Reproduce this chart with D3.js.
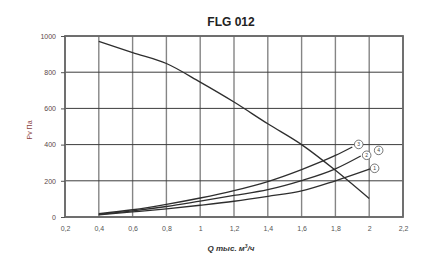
<!DOCTYPE html>
<html>
<head>
<meta charset="utf-8">
<script src="https://cdn.jsdelivr.net/npm/d3@7"></script>
<style>
  body { margin: 0; background: #fff; }
  text { font-family: "Liberation Sans", Arial, sans-serif; }
</style>
</head>
<body>
<div id="chart"></div>
<script>
// data
const xTicks = [0.2, 0.4, 0.6, 0.8, 1.0, 1.2, 1.4, 1.6, 1.8, 2.0, 2.2];
const yTicks = [0, 200, 400, 600, 800, 1000];

// fan curve (pressure falls with flow)
const fanQ = [0.4, 0.6, 0.8, 1.0, 1.2, 1.4, 1.6, 1.8, 2.0];
const fanP = [970, 908, 848, 745, 635, 515, 400, 258, 102];

// system curves
const sysQ3 = [0.4, 0.6, 0.8, 1.0, 1.2, 1.4, 1.6, 1.8, 1.9];
const sysP3 = [18, 40, 70, 105, 146, 196, 262, 340, 387];
const sysQ2 = [0.4, 0.6, 0.8, 1.0, 1.2, 1.4, 1.6, 1.8, 1.95];
const sysP2 = [15, 34, 58, 88, 119, 151, 201, 266, 337];
const sysQ1 = [0.4, 0.6, 0.8, 1.0, 1.2, 1.4, 1.6, 1.8, 2.01];
const sysP1 = [12, 28, 45, 65, 87, 114, 144, 200, 267];

// circled curve numbers
const markNames = ["3", "2", "4", "1"];
const markQ = [1.938, 1.985, 2.056, 2.032];
const markP = [401, 341, 368, 269];

const W = 427, H = 263;
const margin = {top: 36, right: 24, bottom: 46, left: 65};
const width = W - margin.left - margin.right,
    height = H - margin.top - margin.bottom;

const svg = d3.select("#chart")
    .append("svg")
    .attr("width", W)
    .attr("height", H);

const g = svg.append("g")
    .attr("transform", `translate(${margin.left},${margin.top})`);

const x = d3.scaleLinear().domain([0.2, 2.2]).range([0, width]);
const y = d3.scaleLinear().domain([0, 1000]).range([height, 0]);

// vertical grid
g.append("g")
    .selectAll("line")
    .data(xTicks)
    .enter()
    .append("line")
    .attr("x1", d => x(d)).attr("x2", d => x(d))
    .attr("y1", 0).attr("y2", height)
    .attr("stroke", "#858585")
    .attr("stroke-width", 1.4);

// horizontal grid
g.append("g")
    .selectAll("line")
    .data(yTicks)
    .enter()
    .append("line")
    .attr("x1", 0).attr("x2", width)
    .attr("y1", d => y(d)).attr("y2", d => y(d))
    .attr("stroke", "#3c3c3c")
    .attr("stroke-width", 1);

// frame
g.append("rect")
    .attr("width", width)
    .attr("height", height)
    .attr("fill", "none")
    .attr("stroke", "#6a6a6a")
    .attr("stroke-width", 1.8);

// axes
const fmt = d => String(+d.toFixed(1)).replace(".", ",");
const xAxis = g.append("g")
    .attr("transform", `translate(0,${height})`)
    .call(d3.axisBottom(x).tickValues(xTicks).tickSize(0).tickPadding(9).tickFormat(fmt));
xAxis.select(".domain").remove();
xAxis.selectAll("text")
    .attr("fill", "#555")
    .style("font-size", "7px");

const yAxis = g.append("g")
    .call(d3.axisLeft(y).tickValues(yTicks).tickSize(4).tickPadding(5).tickFormat(d3.format("d")));
yAxis.select(".domain").remove();
yAxis.selectAll("line").attr("stroke", "#555");
yAxis.selectAll("text")
    .attr("fill", "#5a4848")
    .style("font-size", "7px");

// curves
const line = d3.line()
    .x(d => x(d[0]))
    .y(d => y(d[1]))
    .curve(d3.curveMonotoneX);

const curves = [
    d3.zip(fanQ, fanP),
    d3.zip(sysQ3, sysP3),
    d3.zip(sysQ2, sysP2),
    d3.zip(sysQ1, sysP1)
];

g.append("g")
    .selectAll("path")
    .data(curves)
    .enter()
    .append("path")
    .attr("d", line)
    .attr("fill", "none")
    .attr("stroke", "#2e2e2e")
    .attr("stroke-width", 1.3);

// circled numbers
const marks = g.append("g")
    .selectAll("g")
    .data(d3.zip(markNames, markQ, markP))
    .enter()
    .append("g")
    .attr("transform", d => `translate(${x(d[1])},${y(d[2])})`);
marks.append("circle")
    .attr("r", 4.3)
    .attr("fill", "#fff")
    .attr("stroke", "#555")
    .attr("stroke-width", 0.8);
marks.append("text")
    .attr("text-anchor", "middle")
    .attr("dy", "0.35em")
    .attr("fill", "#444")
    .style("font-size", "5px")
    .text(d => d[0]);

// titles
svg.append("text")
    .attr("x", 231)
    .attr("y", 26)
    .attr("text-anchor", "middle")
    .attr("fill", "#222")
    .style("font-size", "12px")
    .style("font-weight", "bold")
    .text("FLG 012");

svg.append("text")
    .attr("x", 231)
    .attr("y", 251)
    .attr("text-anchor", "middle")
    .attr("fill", "#333")
    .style("font-size", "8px")
    .style("font-weight", "bold")
    .style("font-style", "italic")
    .html("Q тыс. м<tspan baseline-shift=\"super\" font-size=\"5px\">3</tspan>/ч");

svg.append("text")
    .attr("transform", "translate(32,130) rotate(-90)")
    .attr("text-anchor", "middle")
    .attr("fill", "#8a4040")
    .style("font-size", "7px")
    .text("Pv Па");
</script>
</body>
</html>
